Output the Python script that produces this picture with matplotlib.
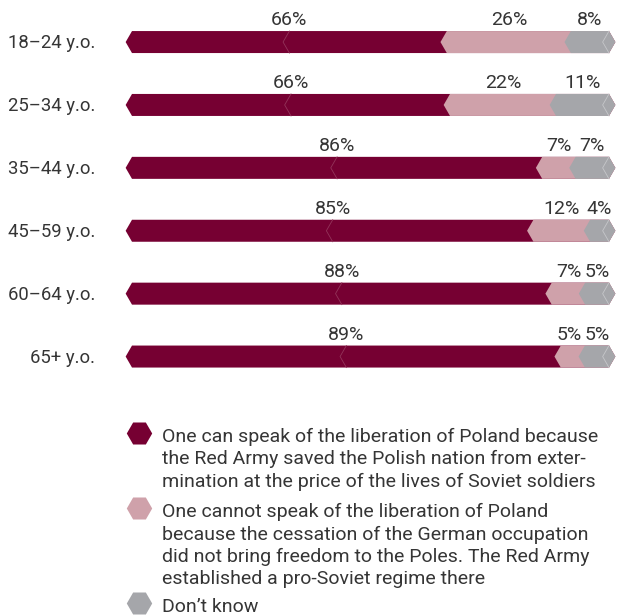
import matplotlib.pyplot as plt
from matplotlib.patches import Polygon

plt.rcParams['font.family'] = ['Roboto', 'DejaVu Sans']

# age groups and answer shares (%)
ages = ['18–24 y.o.', '25–34 y.o.', '35–44 y.o.', '45–59 y.o.', '60–64 y.o.', '65+ y.o.']
liberation = [66, 66, 86, 85, 88, 89]
no_liberation = [26, 22, 7, 12, 7, 5]
dont_know = [8, 11, 7, 4, 5, 5]

legend_labels = [
    'One can speak of the liberation of Poland because\n'
    'the Red Army saved the Polish nation from exter-\n'
    'mination at the price of the lives of Soviet soldiers',
    'One cannot speak of the liberation of Poland\n'
    'because the cessation of the German occupation\n'
    'did not bring freedom to the Poles. The Red Army\n'
    'established a pro-Soviet regime there',
    'Don’t know',
]

colors = ['#760032', '#cfa1aa', '#a5a6aa']
faint = ['#93345a', '#dcbac0', '#c6c7ca']
text_color = '#353535'
fsize = 14

W, H = 620, 616
fig = plt.figure(figsize=(W / 100, H / 100), dpi=100)

# bar area: 0..100 % spans px 132..609, rows every ~63 px
row_px = 62.9
ax = fig.add_axes([132 / W, 1 - 388 / H, 477 / W, 6 * row_px / H])
ax.set_xlim(0, 100)
ax.set_ylim(5.5, -0.5)
ax.axis('off')

px_x = 477 / 100.0
hh = 11 / row_px          # half bar height (rows)
d = 6.35 / px_x           # depth of the pointed ends (% units)


def seg(s, e, y, last):
    tip = e + d if last else e - d
    return [(s, y - hh), (e, y - hh), (tip, y), (e, y + hh), (s, y + hh), (s - d, y)]


fig.canvas.draw()
renderer = fig.canvas.get_renderer()

for i, age in enumerate(ages):
    vals = [liberation[i], no_liberation[i], dont_know[i]]
    tot = float(sum(vals))
    bounds = [0]
    for v in vals:
        bounds.append(bounds[-1] + v / tot * 100)
    # layered: each segment runs to the end, later ones on top
    for k in range(3):
        ax.add_patch(Polygon(seg(bounds[k], 100, i, True), closed=True,
                             facecolor=colors[k], edgecolor='none', clip_on=False, zorder=2 + k))
    c0 = (bounds[0] + bounds[1]) / 2
    ax.plot([c0, c0 - d, c0], [i - hh, i, i + hh], color=faint[0], lw=0.6, zorder=6, clip_on=False)
    ax.plot([100, 100 - d, 100], [i - hh, i, i + hh], color=faint[2], lw=0.6, zorder=6, clip_on=False)

    # value labels above segments, nudged apart if they collide
    texts = []
    for k in range(3):
        c = (bounds[k] + bounds[k + 1]) / 2
        t = ax.annotate('%d%%' % vals[k], xy=(c, i - hh), xytext=(0, 6 * 0.72),
                        textcoords='offset points', ha='center', va='baseline',
                        fontsize=fsize, color=text_color)
        texts.append([t, c])
    for k in (1, 0):
        wk = texts[k][0].get_window_extent(renderer).width / px_x
        wn = texts[k + 1][0].get_window_extent(renderer).width / px_x
        right = texts[k][1] + wk / 2
        left_next = texts[k + 1][1] - wn / 2 - 3 / px_x
        if right > left_next:
            texts[k][1] -= right - left_next
            texts[k][0].xy = (texts[k][1], i - hh)

    ax.annotate(age, xy=(0, i), xytext=(-37 * 0.72, -6 * 0.72), textcoords='offset points',
                ha='right', va='baseline', fontsize=13.3, color=text_color)

# legend drawn in pixel coordinates
lax = fig.add_axes([0, 0, 1, 1], zorder=-1)
lax.set_xlim(0, W)
lax.set_ylim(H, 0)
lax.axis('off')

baselines = [442, 517, 612]
line_step = 22.5
for k, label in enumerate(legend_labels):
    lax.plot(139, baselines[k] - 9, marker='H', ms=18.3, color=colors[k], mew=0, clip_on=False)
    for j, line in enumerate(label.split('\n')):
        lax.text(162, baselines[k] + j * line_step, line, ha='left', va='baseline',
                 fontsize=fsize, color=text_color)

fig.savefig('out.png', dpi=100)
